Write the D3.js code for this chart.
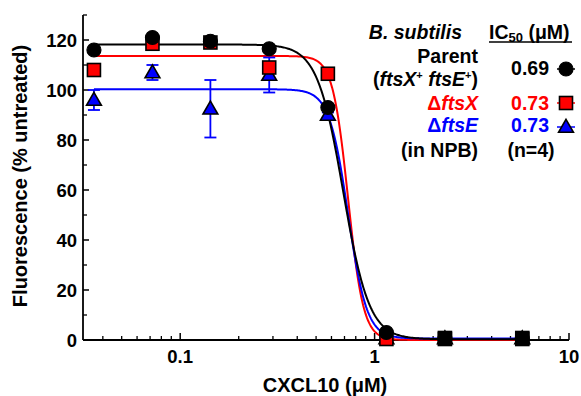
<!DOCTYPE html>
<html>
<head>
<meta charset="utf-8">
<script src="https://cdn.jsdelivr.net/npm/d3@7/dist/d3.min.js"></script>
<style>
  body { margin: 0; background: #fff; }
  svg text { font-family: Arial, "Liberation Sans", sans-serif; font-weight: bold; }
</style>
</head>
<body>
<div id="chart"></div>
<script>
// CXCL10 concentrations (uM)
var conc = [0.036, 0.072, 0.143, 0.287, 0.575, 1.15, 2.3, 5.75];

// fluorescence (% untreated)
var parent = [116, 121, 119.5, 116.5, 93, 3, 0.6, 0.6];
var dFtsX  = [108, 118.5, 119, 109, 106.5, 0.4, 0.4, 0.4];
var dFtsE  = [96, 107, 92.5, 106, 90, 0.6, 0.6, 0.6];
var dFtsEErr = [4, 3, 11.5, 7, 1, 0, 0, 0];

// doses where all three strains overlap at ~0
var overlapConc = [2.3, 5.75];
var overlapVal  = [0.8, 0.8];

// fitted dose-response parameters (parent, dFtsX, dFtsE)
var fitTop    = [118.2, 113.6, 100.3];
var fitBottom = [0.3, 0.0, 0.6];
var fitIC50   = [0.69, 0.73, 0.73];
var fitHill   = [6.5, 11, 9];

var yTicks = [0, 20, 40, 60, 80, 100, 120];
var xTicks = [0.1, 1, 10];

var colors = ["#000000", "#ff0000", "#0000ff"];

var width = 581, height = 396;
var margins = {top: 15, right: 12, bottom: 56, left: 83};
var tickFont = "18.5px", textFont = "19.5px", titleFont = "20px";

var svg = d3.select("#chart").append("svg")
    .attr("width", width)
    .attr("height", height);

var xScale = d3.scaleLog().domain([Math.pow(10, -1.5), 10]).range([margins.left, width - margins.right]);
var yScale = d3.scaleLinear().domain([0, 130]).range([height - margins.bottom, margins.top]);

// axes
var minorX = [];
[0.01, 0.1, 1].forEach(function(d) {
    for (var k = 2; k <= 9; k++) {
        var v = d * k;
        if (v >= xScale.domain()[0] && v <= 10) minorX.push(v);
    }
});

var xAxis = svg.append("g")
    .attr("transform", "translate(0," + yScale(0) + ")");
xAxis.append("line")
    .attr("x1", xScale.range()[0]).attr("x2", xScale.range()[1])
    .attr("stroke", "#000").attr("stroke-width", 1.8);
xAxis.selectAll(".minor").data(minorX).enter().append("line")
    .attr("x1", function(d) { return xScale(d); })
    .attr("x2", function(d) { return xScale(d); })
    .attr("y1", 0).attr("y2", -4)
    .attr("stroke", "#000").attr("stroke-width", 1.3);
xAxis.selectAll(".major").data(xTicks).enter().append("line")
    .attr("x1", function(d) { return xScale(d); })
    .attr("x2", function(d) { return xScale(d); })
    .attr("y1", 0).attr("y2", -7)
    .attr("stroke", "#000").attr("stroke-width", 1.5);
xAxis.selectAll("text").data(xTicks).enter().append("text")
    .attr("x", function(d) { return xScale(d); })
    .attr("y", 23)
    .attr("text-anchor", "middle")
    .style("font-size", tickFont)
    .text(function(d) { return d3.format("")(d); });

var minorY = d3.range(10, 131, 20);
var yAxis = svg.append("g")
    .attr("transform", "translate(" + margins.left + ",0)");
yAxis.append("line")
    .attr("y1", yScale(0)).attr("y2", yScale(130))
    .attr("stroke", "#000").attr("stroke-width", 1.8);
yAxis.selectAll(".minor").data(minorY).enter().append("line")
    .attr("y1", function(d) { return yScale(d); })
    .attr("y2", function(d) { return yScale(d); })
    .attr("x1", 0).attr("x2", 4)
    .attr("stroke", "#000").attr("stroke-width", 1.3);
yAxis.selectAll(".major").data(yTicks).enter().append("line")
    .attr("y1", function(d) { return yScale(d); })
    .attr("y2", function(d) { return yScale(d); })
    .attr("x1", 0).attr("x2", 6)
    .attr("stroke", "#000").attr("stroke-width", 1.5);
yAxis.selectAll("text").data(yTicks).enter().append("text")
    .attr("x", -6)
    .attr("y", function(d) { return yScale(d); })
    .attr("dy", "0.36em")
    .attr("text-anchor", "end")
    .style("font-size", tickFont)
    .text(function(d) { return d; });

// axis titles
svg.append("text")
    .attr("transform", "translate(27,176) rotate(-90)")
    .attr("text-anchor", "middle")
    .style("font-size", titleFont)
    .text("Fluorescence (% untreated)");

svg.append("text")
    .attr("x", 325).attr("y", 392)
    .attr("text-anchor", "middle")
    .style("font-size", titleFont)
    .text("CXCL10 (\u03BCM)");

// fitted curves
var curveX = d3.range(Math.log10(conc[0]), Math.log10(conc[conc.length - 1]) + 0.001, 0.005)
    .map(function(v) { return Math.pow(10, v); });
var line = d3.line()
    .x(function(d) { return xScale(d[0]); })
    .y(function(d) { return yScale(d[1]); })
    .curve(d3.curveLinear);

[1, 2, 0].forEach(function(i) {
    var pts = curveX.map(function(x) {
        return [x, fitBottom[i] + (fitTop[i] - fitBottom[i]) / (1 + Math.pow(x / fitIC50[i], fitHill[i]))];
    });
    svg.append("path")
        .attr("d", line(pts))
        .attr("fill", "none")
        .attr("stroke", colors[i])
        .attr("stroke-width", 2);
});

// error bars (dFtsE)
var errs = svg.append("g");
conc.forEach(function(x, i) {
    if (!dFtsEErr[i]) return;
    var cx = xScale(x);
    var lo = yScale(dFtsE[i] - dFtsEErr[i]), hi = yScale(dFtsE[i] + dFtsEErr[i]);
    errs.append("line").attr("x1", cx).attr("x2", cx).attr("y1", lo).attr("y2", hi)
        .attr("stroke", "#0000ff").attr("stroke-width", 1.8);
    [lo, hi].forEach(function(y) {
        errs.append("line").attr("x1", cx - 6).attr("x2", cx + 6).attr("y1", y).attr("y2", y)
            .attr("stroke", "#0000ff").attr("stroke-width", 1.8);
    });
});

// markers
var triPath = d3.symbol().type(d3.symbolTriangle).size(95);

function drawCircle(g, cx, cy, fill) {
    g.append("circle").attr("cx", cx).attr("cy", cy).attr("r", 7)
        .attr("fill", fill).attr("stroke", "#000").attr("stroke-width", 1.2);
}
function drawSquare(g, cx, cy, fill) {
    g.append("rect").attr("x", cx - 6.5).attr("y", cy - 6.5)
        .attr("width", 13).attr("height", 13)
        .attr("fill", fill).attr("stroke", "#000").attr("stroke-width", 1.6);
}
function drawTriangle(g, cx, cy, fill) {
    g.append("path").attr("d", triPath())
        .attr("transform", "translate(" + cx + "," + (cy + 1) + ")")
        .attr("fill", fill).attr("stroke", "#000").attr("stroke-width", 1.6);
}

var marks = svg.append("g");
conc.forEach(function(x, i) { drawTriangle(marks, xScale(x), yScale(dFtsE[i]), "#0000ff"); });
conc.forEach(function(x, i) { drawSquare(marks, xScale(x), yScale(dFtsX[i]), "#ff0000"); });
conc.forEach(function(x, i) { drawCircle(marks, xScale(x), yScale(parent[i]), "#000"); });
overlapConc.forEach(function(x, i) { drawSquare(marks, xScale(x), yScale(overlapVal[i]), "#000"); });

// legend
var lg = svg.append("g");
var nameX = 478, valX = 549, markX = 566;

lg.append("text").attr("x", 462).attr("y", 39).attr("text-anchor", "end")
    .style("font-size", textFont).style("font-style", "italic").text("B. subtilis");

var ic = lg.append("text").attr("x", 489).attr("y", 39).style("font-size", textFont);
ic.append("tspan").text("IC");
ic.append("tspan").attr("dy", 3).style("font-size", "13px").text("50");
ic.append("tspan").attr("dy", -3).text(" (\u03BCM)");
lg.append("line").attr("x1", 489).attr("x2", 572).attr("y1", 42).attr("y2", 42)
    .attr("stroke", "#000").attr("stroke-width", 1.3);

lg.append("text").attr("x", nameX).attr("y", 63).attr("text-anchor", "end")
    .style("font-size", textFont).text("Parent");
var ftsLine = lg.append("text").attr("x", nameX).attr("y", 86).attr("text-anchor", "end")
    .style("font-size", textFont);
ftsLine.append("tspan").text("(");
ftsLine.append("tspan").style("font-style", "italic").text("ftsX");
ftsLine.append("tspan").attr("dy", -7).style("font-size", "11px").text("+");
ftsLine.append("tspan").attr("dy", 7).style("font-style", "italic").text(" ftsE");
ftsLine.append("tspan").attr("dy", -7).style("font-size", "11px").text("+");
ftsLine.append("tspan").attr("dy", 7).text(")");

var dx = lg.append("text").attr("x", nameX).attr("y", 110).attr("text-anchor", "end")
    .style("font-size", textFont).attr("fill", "#ff0000");
dx.append("tspan").text("\u0394");
dx.append("tspan").style("font-style", "italic").text("ftsX");
var de = lg.append("text").attr("x", nameX).attr("y", 132).attr("text-anchor", "end")
    .style("font-size", textFont).attr("fill", "#0000ff");
de.append("tspan").text("\u0394");
de.append("tspan").style("font-style", "italic").text("ftsE");
lg.append("text").attr("x", nameX).attr("y", 157).attr("text-anchor", "end")
    .style("font-size", textFont).text("(in NPB)");

var valY = [75, 110, 132];
var markY = [69, 103, 127];
[0, 1, 2].forEach(function(i) {
    lg.append("text").attr("x", valX).attr("y", valY[i]).attr("text-anchor", "end")
        .style("font-size", textFont).attr("fill", colors[i])
        .text(d3.format(".2f")(fitIC50[i]));
    lg.append("line").attr("x1", markX - 9).attr("x2", markX + 9)
        .attr("y1", markY[i]).attr("y2", markY[i])
        .attr("stroke", colors[i]).attr("stroke-width", 1.5);
});
drawCircle(lg, markX, markY[0], "#000");
drawSquare(lg, markX, markY[1], "#ff0000");
drawTriangle(lg, markX, markY[2], "#0000ff");

lg.append("text").attr("x", 531).attr("y", 157).attr("text-anchor", "middle")
    .style("font-size", textFont).text("(n=4)");
</script>
</body>
</html>
